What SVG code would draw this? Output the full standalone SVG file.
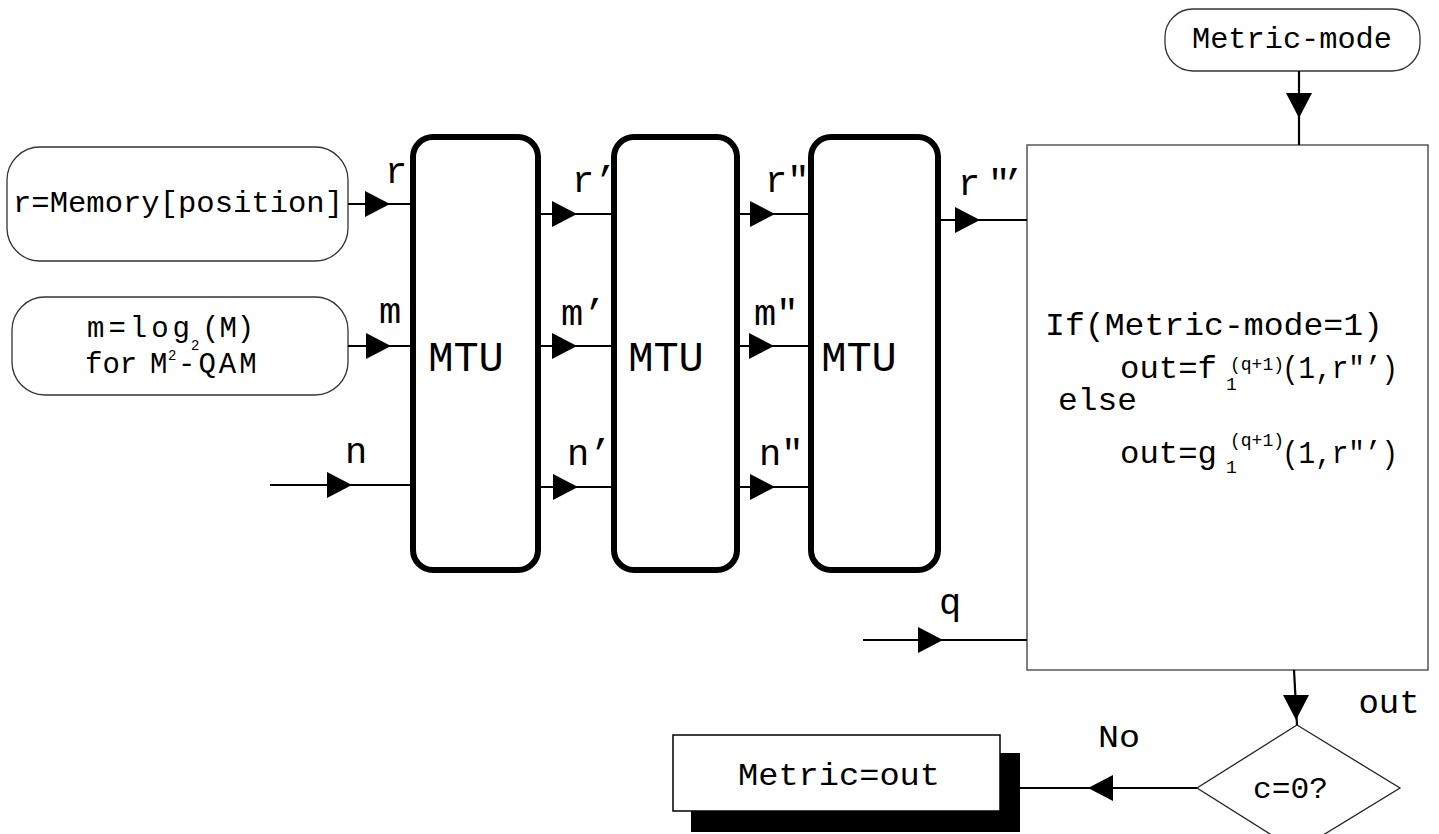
<svg xmlns="http://www.w3.org/2000/svg" xmlns:xlink="http://www.w3.org/1999/xlink" width="1439" height="834" viewBox="0 0 1439 834">
<style>
text{font-family:"Liberation Mono","Courier New",monospace;fill:#000}
.pill{fill:#fff;stroke:#333;stroke-width:1.3}
.mtu{fill:#fff;stroke:#000;stroke-width:6}
.box{fill:#fff;stroke:#555;stroke-width:1.5}
.ln{fill:none;stroke:#000;stroke-width:2.2}
.lbl{font-size:37px}
.mtut{font-size:42px}
.t30{font-size:30px}
.t26{font-size:29px}
.sm{font-size:18px}
</style>
<defs>
<polygon id="ah" points="0,0 -25,-13 -25,13" fill="#000"/>
</defs>
<rect width="1439" height="834" fill="#fff"/>

<g id="memory">
<rect class="pill" x="7" y="147" width="341" height="114" rx="33"/>
<text class="t30" x="13" y="212" textLength="330" lengthAdjust="spacingAndGlyphs">r=Memory[position]</text>
</g>
<g id="mbox">
<rect class="pill" x="12" y="297" width="336" height="98" rx="33"/>
<text class="t26" x="87" y="337" letter-spacing="4">m=log</text>
<text style="font-size:14px" x="191" y="350">2</text>
<text class="t26" x="202" y="337">(M)</text>
<text class="t26" x="85" y="373">for</text>
<text class="t26" x="150" y="373">M</text>
<text style="font-size:14px" x="168" y="360">2</text>
<text class="t26" x="178" y="373" letter-spacing="3">-QAM</text>
</g>
<g id="mtu1">
<rect class="mtu" x="413" y="137" width="125" height="433" rx="20"/>
<text class="mtut" x="466" y="371" text-anchor="middle">MTU</text>
</g>
<g id="mtu2">
<rect class="mtu" x="614" y="137" width="123" height="433" rx="20"/>
<text class="mtut" x="666" y="371" text-anchor="middle">MTU</text>
</g>
<g id="mtu3">
<rect class="mtu" x="811" y="137" width="127" height="433" rx="20"/>
<text class="mtut" x="859" y="371" text-anchor="middle">MTU</text>
</g>
<g id="metricmode">
<rect class="pill" x="1165" y="9" width="255" height="62" rx="28"/>
<text class="t30" x="1192" y="48" textLength="200" lengthAdjust="spacingAndGlyphs">Metric-mode</text>
</g>
<g id="compute">
<rect class="box" x="1027" y="145" width="401" height="525"/>
<text style="font-size:32px" x="1045" y="335" textLength="338" lengthAdjust="spacingAndGlyphs">If(Metric-mode=1)</text>
<text style="font-size:32px" x="1120" y="378" textLength="97" lengthAdjust="spacingAndGlyphs">out=f</text>
<text class="sm" x="1226" y="390">1</text>
<text class="sm" x="1230" y="370" textLength="54" lengthAdjust="spacingAndGlyphs">(q+1)</text>
<text style="font-size:32px" x="1282" y="378" textLength="116" lengthAdjust="spacingAndGlyphs">(1,r"’)</text>
<text style="font-size:32px" x="1058" y="410" textLength="79" lengthAdjust="spacingAndGlyphs">else</text>
<text style="font-size:32px" x="1120" y="463" textLength="97" lengthAdjust="spacingAndGlyphs">out=g</text>
<text class="sm" x="1226" y="473">1</text>
<text class="sm" x="1230" y="446" textLength="54" lengthAdjust="spacingAndGlyphs">(q+1)</text>
<text style="font-size:32px" x="1282" y="463" textLength="116" lengthAdjust="spacingAndGlyphs">(1,r"’)</text>
</g>
<g id="decision">
<polygon points="1297,725 1400,788 1297,851 1197,788" fill="#fff" stroke="#222" stroke-width="1.3"/>
<text class="t30" x="1253" y="798" textLength="75" lengthAdjust="spacingAndGlyphs">c=0?</text>
</g>
<g id="metricout">
<rect x="691" y="753" width="329" height="79" fill="#000"/>
<rect x="673" y="735" width="327" height="76" fill="#fff" stroke="#000" stroke-width="1.5"/>
<text style="font-size:32px" x="738" y="785" textLength="202" lengthAdjust="spacingAndGlyphs">Metric=out</text>
</g>

<g id="connectors">
<path class="ln" d="M348,204 H413"/>
<use xlink:href="#ah" x="390" y="204"/>
<path class="ln" d="M348,346 H413"/>
<use xlink:href="#ah" x="391" y="346"/>
<path class="ln" d="M270,485 H413"/>
<use xlink:href="#ah" x="352" y="485"/>

<path class="ln" d="M538,214 H614"/>
<use xlink:href="#ah" x="577" y="214"/>
<path class="ln" d="M538,346 H614"/>
<use xlink:href="#ah" x="577" y="346"/>
<path class="ln" d="M538,487 H614"/>
<use xlink:href="#ah" x="578" y="487"/>

<path class="ln" d="M737,214 H811"/>
<use xlink:href="#ah" x="775" y="214"/>
<path class="ln" d="M737,346 H811"/>
<use xlink:href="#ah" x="774" y="346"/>
<path class="ln" d="M737,487 H811"/>
<use xlink:href="#ah" x="775" y="487"/>

<path class="ln" d="M938,220 H1027"/>
<use xlink:href="#ah" x="980" y="220"/>
<path class="ln" d="M863,640 H1027"/>
<use xlink:href="#ah" x="943" y="640"/>

<path class="ln" d="M1299,71 V145"/>
<use xlink:href="#ah" transform="translate(1299,118) rotate(90)"/>
<path class="ln" d="M1294,670 L1297,725"/>
<use xlink:href="#ah" transform="translate(1296,720) rotate(90)"/>
<path class="ln" d="M1197,788 H1020"/>
<use xlink:href="#ah" transform="translate(1088,788) rotate(180)"/>
</g>

<g id="labels">
<text class="lbl" x="396" y="183" text-anchor="middle">r</text>
<text class="lbl" x="390" y="323" text-anchor="middle">m</text>
<text class="lbl" x="356" y="463" text-anchor="middle">n</text>
<text class="lbl" x="572" y="192">r’</text>
<text class="lbl" x="561" y="325">m’</text>
<text class="lbl" x="567" y="465">n’</text>
<text class="lbl" x="765" y="192">r"</text>
<text class="lbl" x="754" y="325">m"</text>
<text class="lbl" x="759" y="465">n"</text>
<text class="lbl" x="958 988 1002" y="195">r"’</text>
<text class="lbl" x="950" y="614" text-anchor="middle">q</text>
<text style="font-size:34px" x="1389" y="713" text-anchor="middle">out</text>
<text style="font-size:32px" x="1098" y="747" textLength="42" lengthAdjust="spacingAndGlyphs">No</text>
</g>
</svg>
